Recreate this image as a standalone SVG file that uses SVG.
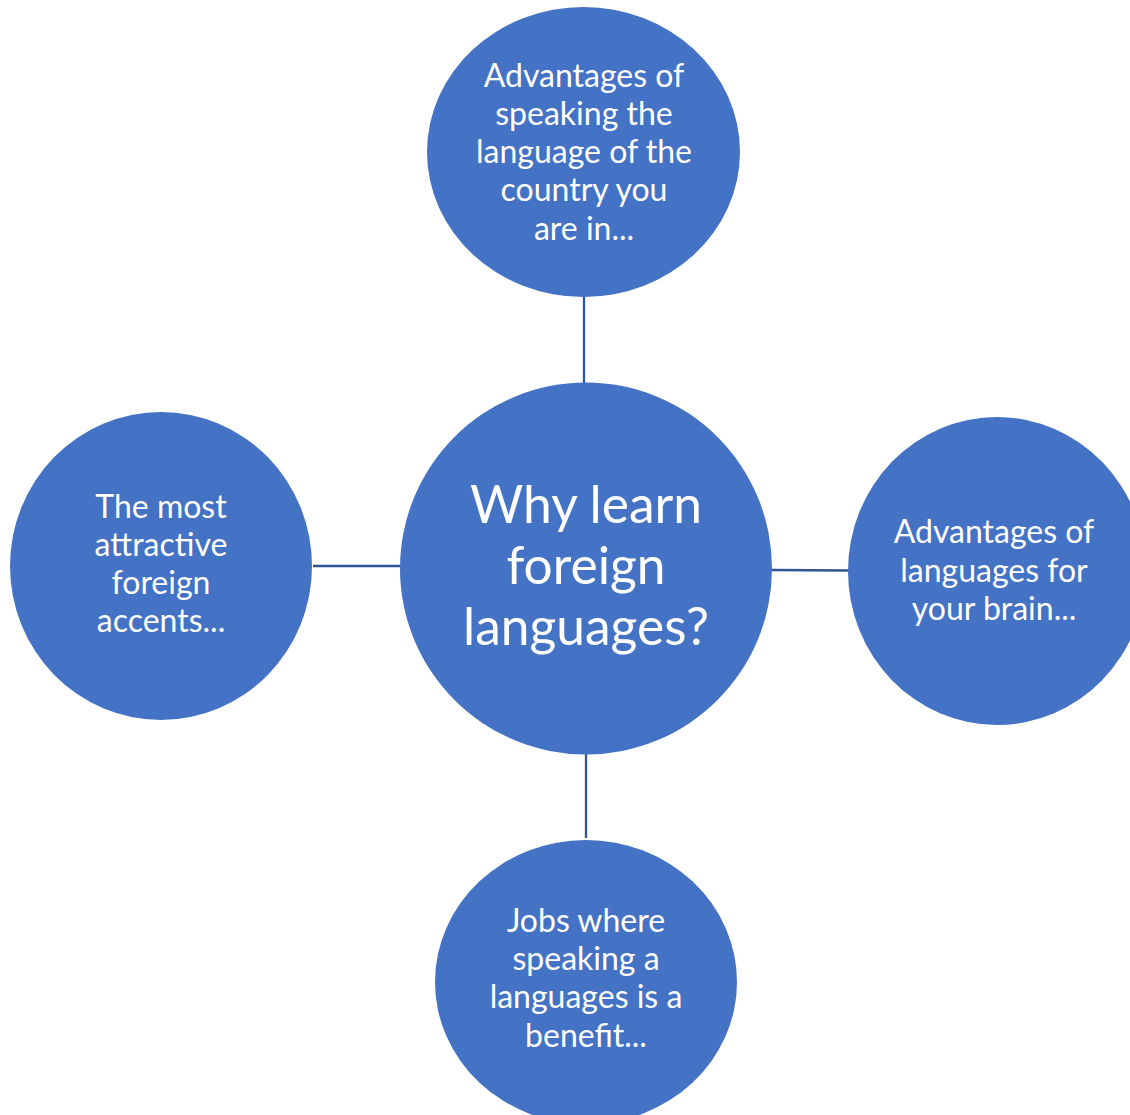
<svg xmlns="http://www.w3.org/2000/svg" width="1130" height="1115" viewBox="0 0 1130 1115">
<style>
.node{fill:#4472C4;}
.t{fill:#FFFFFF;font-family:Lato,"Liberation Sans",sans-serif;font-size:32px;text-anchor:middle;}
.big{font-size:51.5px;}
.edge{stroke:#2F5597;stroke-width:2.3;fill:none;}
</style>
<rect width="1130" height="1115" fill="#FFFFFF"/>
<g id="connectors">
<line class="edge" x1="584" y1="297" x2="584" y2="383"/>
<line class="edge" x1="313" y1="566" x2="400" y2="566"/>
<line class="edge" x1="772" y1="570" x2="848" y2="570.5"/>
<line class="edge" x1="586" y1="754" x2="586" y2="838"/>
</g>
<g id="center">
<circle class="node" cx="586" cy="568.5" r="186"/>
<text class="t big"><tspan x="586" y="523">Why learn</tspan><tspan x="586" y="584">foreign</tspan><tspan x="586" y="645">languages?</tspan></text>
</g>
<g id="top">
<ellipse class="node" cx="583.5" cy="152" rx="156.5" ry="145"/>
<text class="t"><tspan x="584" y="86.5">Advantages of</tspan><tspan x="584" y="124.8">speaking the</tspan><tspan x="584" y="163.1">language of the</tspan><tspan x="584" y="201.4">country you</tspan><tspan x="584" y="239.7">are in...</tspan></text>
</g>
<g id="left">
<ellipse class="node" cx="161" cy="566" rx="151" ry="154"/>
<text class="t"><tspan x="161" y="518.3">The most</tspan><tspan x="161" y="556.1">attractive</tspan><tspan x="161" y="593.9">foreign</tspan><tspan x="161" y="631.7">accents...</tspan></text>
</g>
<g id="right">
<ellipse class="node" cx="997" cy="571" rx="149" ry="154"/>
<text class="t"><tspan x="994" y="543.3">Advantages of</tspan><tspan x="994" y="581.6">languages for</tspan><tspan x="994" y="619.9">your brain...</tspan></text>
</g>
<g id="bottom">
<ellipse class="node" cx="586" cy="982" rx="151" ry="142"/>
<text class="t"><tspan x="586" y="931.7">Jobs where</tspan><tspan x="586" y="970">speaking a</tspan><tspan x="586" y="1008.3">languages is a</tspan><tspan x="586" y="1046.6">benefit...</tspan></text>
</g>
</svg>
